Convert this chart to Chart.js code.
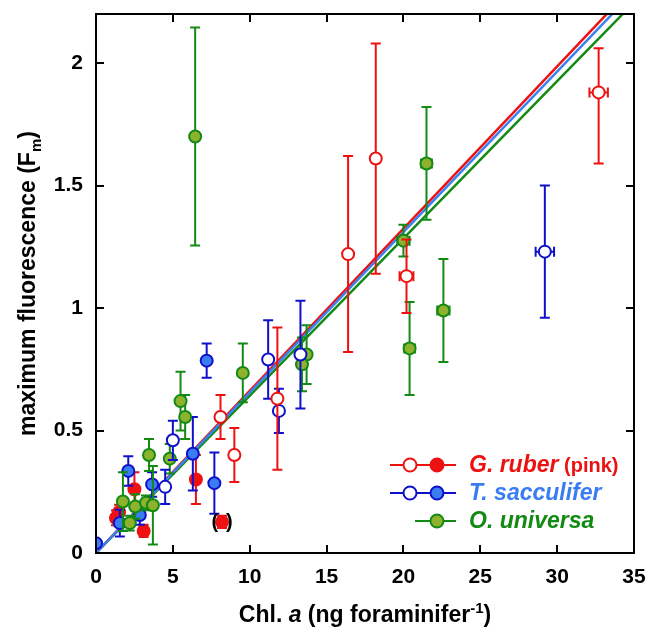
<!DOCTYPE html>
<html>
<head>
<meta charset="utf-8">
<script src="https://cdn.jsdelivr.net/npm/chart.js@4.4.1/dist/chart.umd.min.js"></script>
<style>
  html, body { margin: 0; padding: 0; background: #fff; }
  #wrap { width: 648px; height: 632px; }
</style>
</head>
<body>
<div id="wrap"><canvas id="fmChart" width="648" height="632"></canvas></div>
<script>
// axis ticks
var xTickValues = [0, 5, 10, 15, 20, 25, 30, 35];
var xTickLabels = ['0', '5', '10', '15', '20', '25', '30', '35'];
var yTickValues = [0, 0.5, 1, 1.5, 2];
var yTickLabels = ['0', '0.5', '1', '1.5', '2'];

// G. ruber (pink), open symbols
var rubOpenX = [32.7, 18.2, 16.4, 20.2, 11.8, 8.1, 9.0];
var rubOpenY = [1.88, 1.61, 1.22, 1.13, 0.63, 0.555, 0.40];
var rubOpenErrUp = [0.18, 0.47, 0.40, 0.15, 0.29, 0.09, 0.11];
var rubOpenErrDn = [0.29, 0.47, 0.40, 0.15, 0.29, 0.09, 0.11];
var rubOpenErrX = [0.6, 0, 0, 0.45, 0, 0, 0];

// G. ruber (pink), filled symbols
var rubFillX = [2.5, 1.5, 1.3, 3.1, 6.5, 8.2];
var rubFillY = [0.26, 0.167, 0.143, 0.09, 0.30, 0.127];
var rubFillErr = [0.07, 0.03, 0.03, 0.025, 0.10, 0.025];

// T. sacculifer, open symbols
var sacOpenX = [29.2, 11.2, 11.9, 13.3, 5.0, 4.5];
var sacOpenY = [1.23, 0.79, 0.58, 0.81, 0.46, 0.27];
var sacOpenErr = [0.27, 0.16, 0.09, 0.22, 0.08, 0.07];
var sacOpenErrX = [0.6, 0, 0, 0, 0, 0];

// T. sacculifer, filled symbols
var sacFillX = [7.2, 6.3, 7.7, 2.1, 3.65, 2.85, 1.55, 0.0];
var sacFillY = [0.785, 0.405, 0.285, 0.335, 0.28, 0.155, 0.122, 0.04];
var sacFillErr = [0.07, 0.15, 0.125, 0.06, 0.05, 0.04, 0.055, 0];

// O. universa
var uniX = [6.45, 21.5, 20.0, 22.6, 20.4, 9.55, 13.7, 13.4, 5.5, 5.8, 3.45, 4.8, 1.75, 2.55, 2.2, 3.25, 3.7];
var uniY = [1.70, 1.59, 1.275, 0.99, 0.835, 0.735, 0.81, 0.77, 0.62, 0.555, 0.40, 0.385, 0.21, 0.19, 0.122, 0.205, 0.195];
var uniErr = [0.445, 0.23, 0.065, 0.21, 0.19, 0.12, 0.12, 0.11, 0.12, 0.09, 0.065, 0.06, 0.12, 0.05, 0.03, 0.03, 0.16];
var uniErrX = [0, 0.35, 0.4, 0.4, 0.35, 0, 0, 0, 0, 0, 0, 0, 0, 0, 0, 0, 0];

// regression slopes through the origin (red, blue, green)
var fitNames = ['G. ruber', 'T. sacculifer', 'O. universa'];
var fitSlopes = [0.0662, 0.0655, 0.0642];

var RED = '#ee1111', BLUE = '#1010cc', BLUE_FILL = '#3a7df2', BLUE_LINE = '#3a82f0';
var GREEN = '#138a13', GREEN_FILL = '#8db32e';
var FONT = '"Liberation Sans", Arial, sans-serif';

function pts(xs, ys) {
    return xs.map(function (x, i) { return { x: x, y: ys[i] }; });
}
function zeros(n) {
    var a = [];
    for (var i = 0; i < n; i++) a.push(0);
    return a;
}

function scatterSet(label, xs, ys, up, dn, ex, border, fill, barColor) {
    return {
        type: 'scatter',
        label: label,
        data: pts(xs, ys),
        errUp: up, errDn: dn, errX: ex, barColor: barColor,
        pointRadius: 6,
        pointHoverRadius: 6,
        pointBorderWidth: 2,
        pointBorderColor: border,
        pointBackgroundColor: fill,
        order: 1
    };
}

function fitSet(i, color) {
    return {
        type: 'line',
        label: fitNames[i] + ' fit',
        data: [{ x: 0, y: 0 }, { x: 35, y: 35 * fitSlopes[i] }],
        borderColor: color,
        borderWidth: 2.5,
        pointRadius: 0,
        fill: false,
        order: 5
    };
}

var datasets = [
    fitSet(1, BLUE_LINE),
    fitSet(0, RED),
    fitSet(2, GREEN),
    scatterSet('G. ruber open', rubOpenX, rubOpenY, rubOpenErrUp, rubOpenErrDn, rubOpenErrX, RED, '#ffffff', RED),
    scatterSet('T. sacculifer open', sacOpenX, sacOpenY, sacOpenErr, sacOpenErr, sacOpenErrX, BLUE, '#ffffff', BLUE),
    scatterSet('O. universa', uniX, uniY, uniErr, uniErr, uniErrX, GREEN, GREEN_FILL, GREEN),
    scatterSet('T. sacculifer filled', sacFillX, sacFillY, sacFillErr, sacFillErr, zeros(sacFillX.length), BLUE, BLUE_FILL, BLUE),
    scatterSet('G. ruber filled', rubFillX, rubFillY, rubFillErr, rubFillErr, zeros(rubFillX.length), RED, RED, RED)
];

// vertical / horizontal error bars, drawn just before each series' symbols
var errorBars = {
    id: 'errorBars',
    beforeDatasetDraw: function (chart, args) {
        var ds = chart.data.datasets[args.index];
        if (!ds.errUp) return;
        var ctx = chart.ctx, xs = chart.scales.x, ys = chart.scales.y;
        var cap = 5;
        ctx.save();
        ctx.strokeStyle = ds.barColor;
        ctx.lineWidth = 2;
        ds.data.forEach(function (p, i) {
            var px = xs.getPixelForValue(p.x);
            var py = ys.getPixelForValue(p.y);
            if (ds.errUp[i] > 0 || ds.errDn[i] > 0) {
                var top = ys.getPixelForValue(p.y + ds.errUp[i]);
                var bot = ys.getPixelForValue(p.y - ds.errDn[i]);
                ctx.beginPath();
                ctx.moveTo(px, top); ctx.lineTo(px, bot);
                ctx.moveTo(px - cap, top); ctx.lineTo(px + cap, top);
                ctx.moveTo(px - cap, bot); ctx.lineTo(px + cap, bot);
                ctx.stroke();
            }
            if (ds.errX[i] > 0) {
                var l = xs.getPixelForValue(p.x - ds.errX[i]);
                var r = xs.getPixelForValue(p.x + ds.errX[i]);
                ctx.beginPath();
                ctx.moveTo(l, py); ctx.lineTo(r, py);
                ctx.moveTo(l, py - cap); ctx.lineTo(l, py + cap);
                ctx.moveTo(r, py - cap); ctx.lineTo(r, py + cap);
                ctx.stroke();
            }
        });
        ctx.restore();
    }
};

// box frame with inward ticks on all four sides
var frame = {
    id: 'frame',
    afterDatasetsDraw: function (chart) {
        var ctx = chart.ctx, a = chart.chartArea;
        var xs = chart.scales.x, ys = chart.scales.y;
        var tl = 8;
        ctx.save();
        ctx.strokeStyle = '#000';
        ctx.lineWidth = 2;
        ctx.strokeRect(a.left, a.top, a.right - a.left, a.bottom - a.top);
        ctx.beginPath();
        xTickValues.forEach(function (v) {
            var px = Math.round(xs.getPixelForValue(v));
            ctx.moveTo(px, a.bottom); ctx.lineTo(px, a.bottom - tl);
            ctx.moveTo(px, a.top); ctx.lineTo(px, a.top + tl);
        });
        yTickValues.forEach(function (v) {
            var py = Math.round(ys.getPixelForValue(v));
            ctx.moveTo(a.left, py); ctx.lineTo(a.left + tl, py);
            ctx.moveTo(a.right, py); ctx.lineTo(a.right - tl, py);
        });
        ctx.stroke();

        // bracketed point
        var px = xs.getPixelForValue(rubFillX[5]);
        var py = ys.getPixelForValue(rubFillY[5]);
        ctx.fillStyle = '#000';
        ctx.font = 'bold 20px ' + FONT;
        ctx.textBaseline = 'middle';
        ctx.textAlign = 'right';
        ctx.fillText('(', px - 4, py + 1);
        ctx.textAlign = 'left';
        ctx.fillText(')', px + 4, py + 1);
        ctx.restore();
    }
};

// draws a run of text pieces [text, font, dy] starting at x
function drawRuns(ctx, runs, x, y) {
    runs.forEach(function (r) {
        ctx.font = r[1];
        ctx.fillText(r[0], x, y + (r[2] || 0));
        x += ctx.measureText(r[0]).width;
    });
}
function runsWidth(ctx, runs) {
    var w = 0;
    runs.forEach(function (r) { ctx.font = r[1]; w += ctx.measureText(r[0]).width; });
    return w;
}

var titles = {
    id: 'titles',
    afterDraw: function (chart) {
        var ctx = chart.ctx, a = chart.chartArea;
        var b = 'bold 23px ' + FONT, bi = 'italic bold 23px ' + FONT, s = 'bold 15px ' + FONT;
        ctx.save();
        ctx.fillStyle = '#000';
        ctx.textAlign = 'left';
        ctx.textBaseline = 'alphabetic';

        var xRuns = [['Chl. ', b], ['a', bi], [' (ng foraminifer', b], ['-1', s, -9], [')', b]];
        var xw = runsWidth(ctx, xRuns);
        drawRuns(ctx, xRuns, (a.left + a.right) / 2 - xw / 2, 622);

        var yRuns = [['maximum fluorescence (F', b], ['m', s, 6], [')', b]];
        var yw = runsWidth(ctx, yRuns);
        ctx.translate(35, (a.top + a.bottom) / 2);
        ctx.rotate(-Math.PI / 2);
        drawRuns(ctx, yRuns, -yw / 2, 0);
        ctx.restore();
    }
};

var legendBox = {
    id: 'legendBox',
    afterDraw: function (chart) {
        var ctx = chart.ctx;
        var rows = [
            { y: 465, x0: 390, color: RED, open: true, fill: RED, text: [['G. ruber', 'italic bold 23px ' + FONT], [' (pink)', 'bold 20px ' + FONT]], textColor: RED },
            { y: 493, x0: 390, color: BLUE, open: true, fill: BLUE_FILL, text: [['T. sacculifer', 'italic bold 23px ' + FONT]], textColor: BLUE_FILL },
            { y: 521, x0: 415, color: GREEN, open: false, fill: GREEN_FILL, text: [['O. universa', 'italic bold 23px ' + FONT]], textColor: GREEN }
        ];
        ctx.save();
        rows.forEach(function (r) {
            ctx.strokeStyle = r.color;
            ctx.lineWidth = 2;
            ctx.beginPath();
            ctx.moveTo(r.x0, r.y); ctx.lineTo(456, r.y);
            ctx.stroke();
            if (r.open) {
                ctx.beginPath();
                ctx.arc(410, r.y, 6.5, 0, Math.PI * 2);
                ctx.fillStyle = '#fff';
                ctx.fill();
                ctx.stroke();
            }
            ctx.beginPath();
            ctx.arc(437, r.y, 6.5, 0, Math.PI * 2);
            ctx.fillStyle = r.fill;
            ctx.fill();
            ctx.stroke();
            ctx.fillStyle = r.textColor;
            ctx.textBaseline = 'middle';
            ctx.textAlign = 'left';
            drawRuns(ctx, r.text, 469, r.y + 1);
        });
        ctx.restore();
    }
};

var ctx = document.getElementById('fmChart').getContext('2d');
var fmChart = new Chart(ctx, {
    data: { datasets: datasets },
    options: {
        responsive: false,
        animation: false,
        layout: { padding: { top: 14, right: 14, left: 0, bottom: 0 } },
        plugins: { legend: { display: false }, tooltip: { enabled: false } },
        scales: {
            x: {
                type: 'linear',
                min: 0, max: 35,
                grid: { display: false, drawTicks: false },
                border: { display: false },
                afterBuildTicks: function (s) { s.ticks = xTickValues.map(function (v) { return { value: v }; }); },
                afterFit: function (s) { s.height = 79; s.paddingLeft = 0; s.paddingRight = 0; },
                ticks: {
                    padding: 12,
                    color: '#000',
                    font: { family: FONT, size: 21, weight: 'bold' },
                    maxRotation: 0,
                    callback: function (v) { return xTickLabels[xTickValues.indexOf(v)]; }
                }
            },
            y: {
                type: 'linear',
                min: 0, max: 2.2,
                grid: { display: false, drawTicks: false },
                border: { display: false },
                afterBuildTicks: function (s) { s.ticks = yTickValues.map(function (v) { return { value: v }; }); },
                afterFit: function (s) { s.width = 96; s.paddingTop = 0; s.paddingBottom = 0; },
                ticks: {
                    padding: 13,
                    color: '#000',
                    font: { family: FONT, size: 21, weight: 'bold' },
                    callback: function (v) { return yTickLabels[yTickValues.indexOf(v)]; }
                }
            }
        }
    },
    plugins: [errorBars, frame, titles, legendBox]
});
</script>
</body>
</html>
